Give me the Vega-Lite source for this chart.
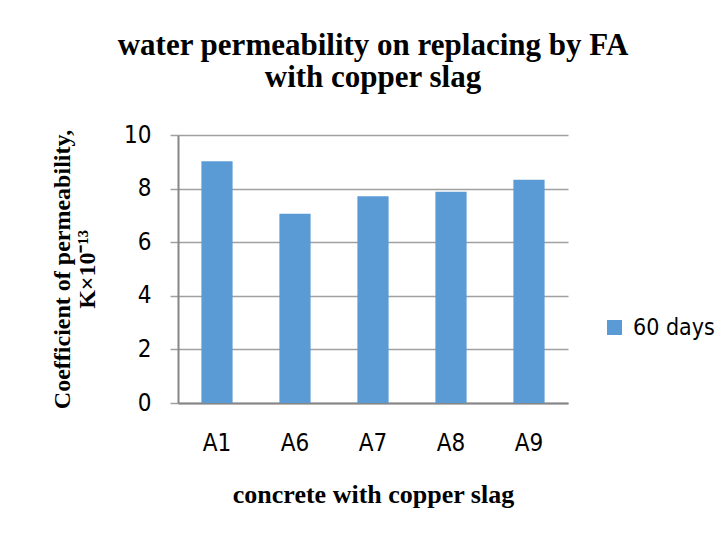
{
  "$schema": "https://vega.github.io/schema/vega-lite/v6.json",
  "width": 390,
  "height": 268,
  "padding": {"left": 50, "top": 30, "right": 5, "bottom": 5},
  "background": "white",
  "title": {
    "text": ["water permeability on replacing by FA", "with copper slag"],
    "font": "Liberation Serif",
    "fontSize": 31,
    "fontWeight": "bold",
    "color": "black",
    "anchor": "middle",
    "lineHeight": 32,
    "offset": 29
  },
  "data": {
    "values": [
      {"mix": "A1", "value": 9.02, "series": "60 days"},
      {"mix": "A6", "value": 7.06, "series": "60 days"},
      {"mix": "A7", "value": 7.71, "series": "60 days"},
      {"mix": "A8", "value": 7.88, "series": "60 days"},
      {"mix": "A9", "value": 8.33, "series": "60 days"}
    ]
  },
  "mark": {"type": "bar"},
  "encoding": {
    "x": {
      "field": "mix",
      "type": "nominal",
      "sort": null,
      "scale": {"paddingInner": 0.6, "paddingOuter": 0.3},
      "title": "concrete with copper slag",
      "axis": {
        "labelAngle": 0,
        "labelFont": "DejaVu Sans Condensed, Lato, sans-serif",
        "labelFontSize": 24,
        "labelColor": "black",
        "labelPadding": 28,
        "ticks": false,
        "domainColor": "#868686",
        "domainWidth": 2,
        "titleFont": "Liberation Serif",
        "titleFontSize": 26,
        "titleFontWeight": "bold",
        "titleColor": "black",
        "titlePadding": 26
      }
    },
    "y": {
      "field": "value",
      "type": "quantitative",
      "scale": {"domain": [0, 10]},
      "title": ["Coefficient of permeability,", "K×10⁻¹³"],
      "axis": {
        "values": [0, 2, 4, 6, 8, 10],
        "labelFont": "DejaVu Sans Condensed, Lato, sans-serif",
        "labelFontSize": 24,
        "labelColor": "black",
        "labelPadding": 19,
        "tickSize": 8,
        "tickColor": "#A0A0A0",
        "tickWidth": 1.5,
        "gridColor": "#A0A0A0",
        "gridWidth": 1.5,
        "domainColor": "#868686",
        "domainWidth": 2,
        "titleFont": "Liberation Serif",
        "titleFontSize": 24,
        "titleFontWeight": "bold",
        "titleColor": "black",
        "titleLineHeight": 25,
        "titlePadding": 24
      }
    },
    "color": {
      "field": "series",
      "type": "nominal",
      "scale": {"range": ["#5B9BD5"]},
      "legend": {
        "title": null,
        "orient": "none",
        "legendX": 425,
        "legendY": 181,
        "symbolType": "square",
        "symbolSize": 225,
        "symbolStrokeWidth": 0,
        "labelFont": "DejaVu Sans Condensed, Lato, sans-serif",
        "labelFontSize": 23,
        "labelColor": "black",
        "labelOffset": 7
      }
    }
  },
  "config": {
    "view": {"stroke": null}
  }
}
